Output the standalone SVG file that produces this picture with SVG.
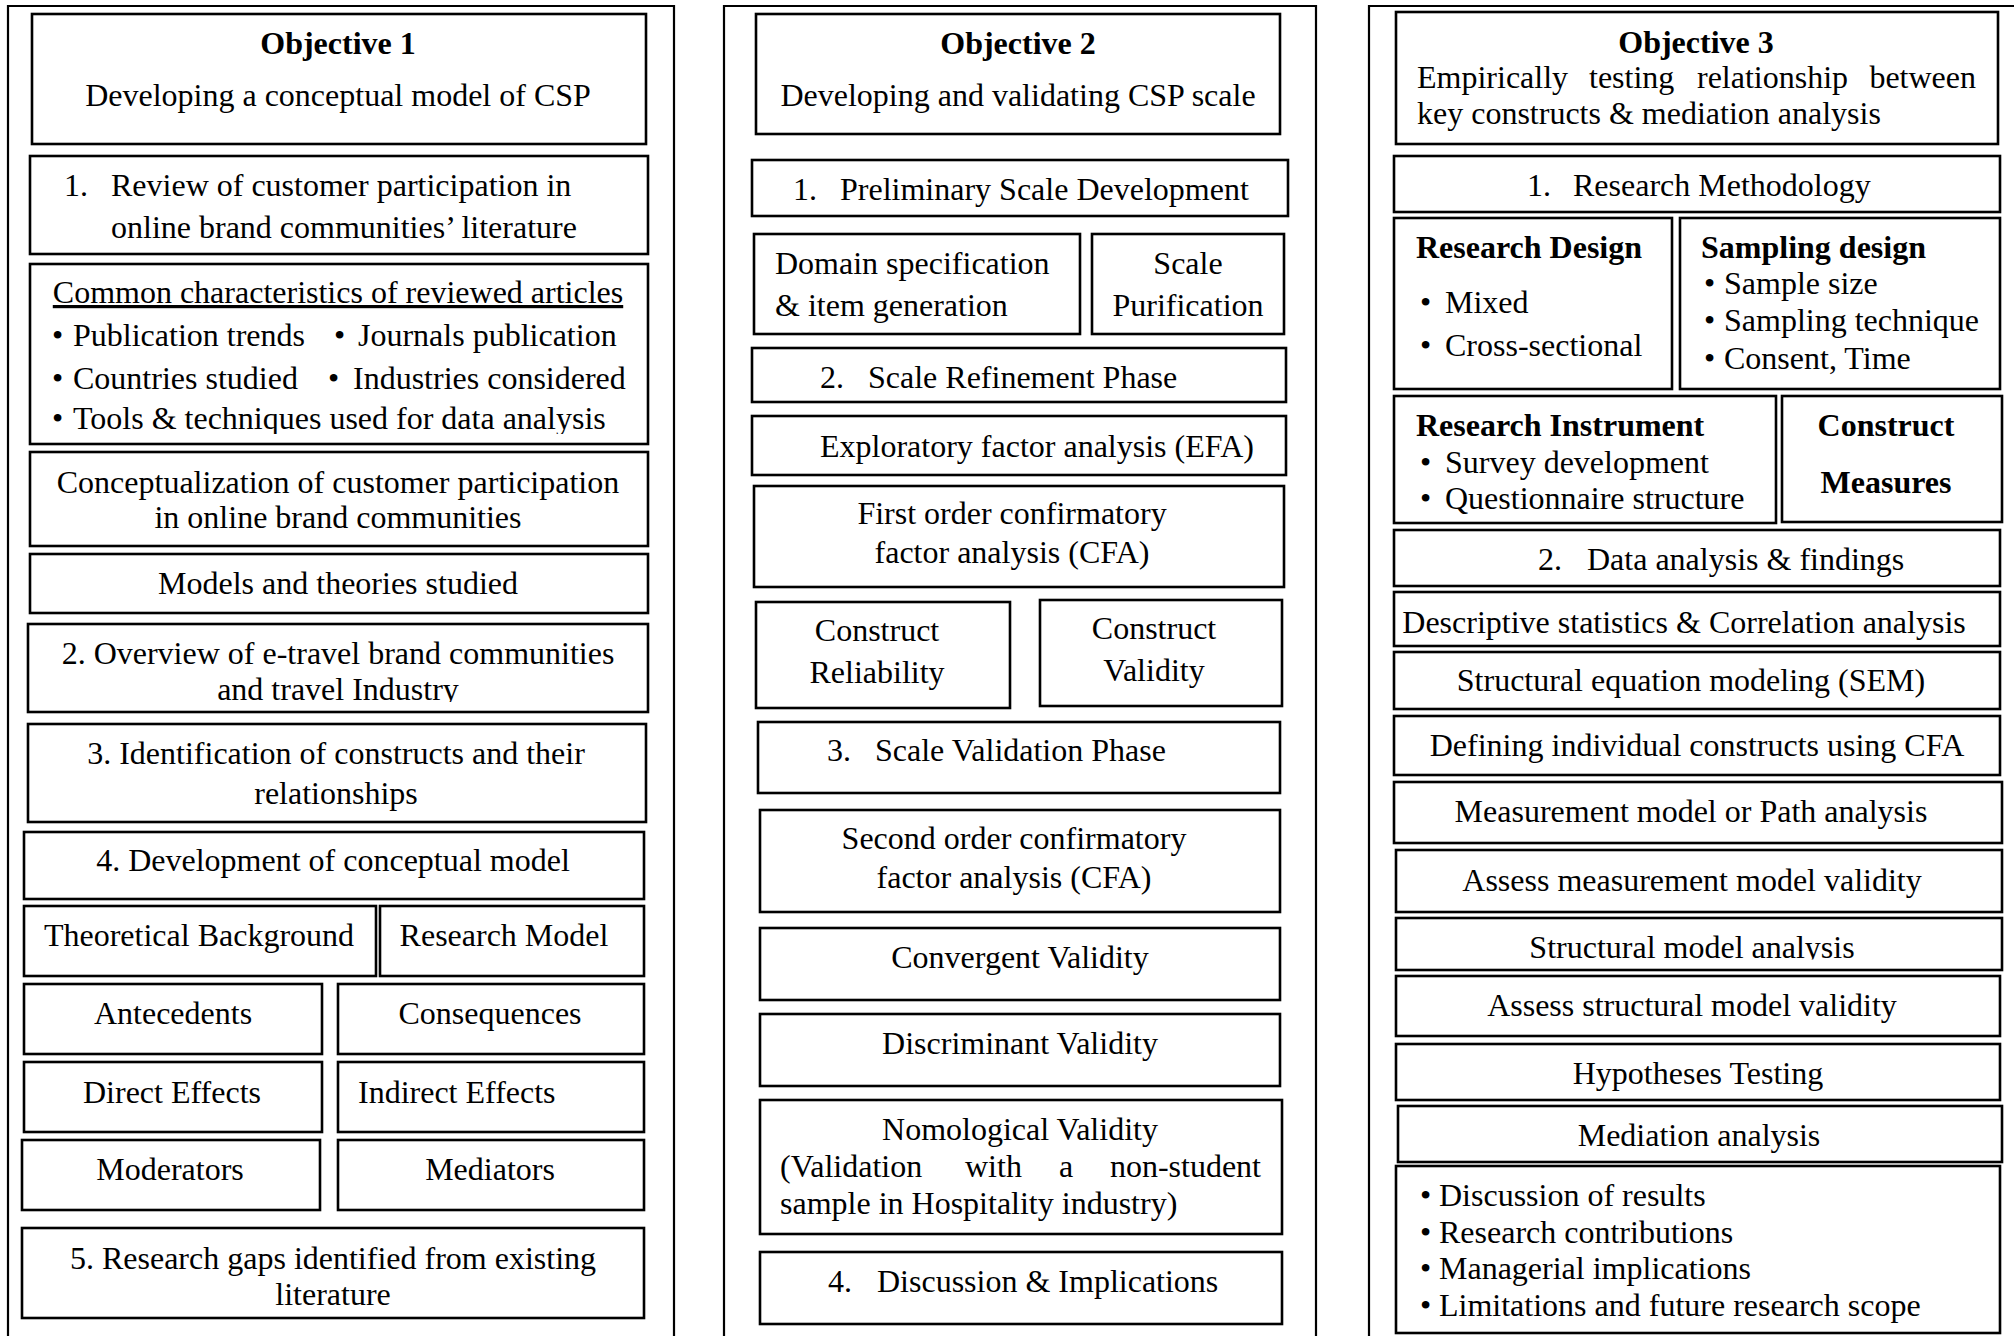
<svg xmlns="http://www.w3.org/2000/svg" width="2014" height="1336" viewBox="0 0 2014 1336">
<style>
.frame{fill:none;stroke:#000;stroke-width:2.2}
.b{fill:#fff;stroke:#000;stroke-width:2.6}
text{font-family:"Liberation Serif","Times New Roman",serif;font-size:32px;fill:#000}
.c{text-anchor:middle}
.e{text-anchor:end}
.bd{font-weight:bold}
</style>
<defs>
<clipPath id="clipTools"><rect x="0" y="0" width="2014" height="434"/></clipPath>
<clipPath id="clipTravel"><rect x="0" y="0" width="2014" height="702"/></clipPath>
<clipPath id="clipStruct"><rect x="0" y="0" width="2014" height="959.5"/></clipPath>
</defs>
<rect width="2014" height="1336" fill="#fff"/>
<g id="frames">
<path class="frame" d="M8,1340 V6 H674 V1340"/>
<path class="frame" d="M724,1340 V6 H1316 V1340"/>
<path class="frame" d="M1369,1340 V6 H2020"/>
</g>
<g id="connectors"></g>

<!-- Column 1 -->
<g id="obj1"><rect class="b" x="32" y="14" width="614" height="130"/>
<text class="c bd" x="338" y="54">Objective 1</text>
<text class="c" x="338" y="106">Developing a conceptual model of CSP</text></g>
<g id="c1-review"><rect class="b" x="30" y="156" width="618" height="98"/>
<text x="64" y="196">1.</text><text x="111" y="196">Review of customer participation in</text>
<text x="111" y="238">online brand communities’ literature</text></g>
<g id="c1-common"><rect class="b" x="30" y="264" width="618" height="180"/>
<text class="c" x="338" y="303" text-decoration="underline">Common characteristics of reviewed articles</text>
<text x="52" y="346">•</text><text x="73" y="346">Publication trends</text><text x="334" y="346">•</text><text x="358" y="346">Journals publication</text>
<text x="52" y="389">•</text><text x="73" y="389">Countries studied</text><text x="328" y="389">•</text><text x="353" y="389">Industries considered</text>
<g clip-path="url(#clipTools)"><text x="52" y="429">•</text><text x="73" y="429">Tools &amp; techniques used for data analysis</text></g></g>
<g id="c1-concept"><rect class="b" x="30" y="452" width="618" height="94"/>
<text class="c" x="338" y="493">Conceptualization of customer participation</text>
<text class="c" x="338" y="528">in online brand communities</text></g>
<g id="c1-models"><rect class="b" x="30" y="554" width="618" height="59"/>
<text class="c" x="338" y="594">Models and theories studied</text></g>
<g id="c1-overview"><rect class="b" x="28" y="624" width="620" height="88"/>
<text class="c" x="338" y="664">2. Overview of e-travel brand communities</text>
<text class="c" x="338" y="700" clip-path="url(#clipTravel)">and travel Industry</text></g>
<g id="c1-ident"><rect class="b" x="28" y="724" width="618" height="98"/>
<text class="c" x="336" y="764">3. Identification of constructs and their</text>
<text class="c" x="336" y="804">relationships</text></g>
<g id="c1-dev"><rect class="b" x="24" y="832" width="620" height="67"/>
<text class="c" x="333" y="871">4. Development of conceptual model</text></g>
<g id="c1-theory"><rect class="b" x="24" y="906" width="352" height="70"/>
<text class="c" x="199" y="946">Theoretical Background</text></g>
<g id="c1-resmodel"><rect class="b" x="380" y="906" width="264" height="70"/>
<text class="c" x="504" y="946">Research Model</text></g>
<g id="c1-antec"><rect class="b" x="24" y="984" width="298" height="70"/>
<text class="c" x="173" y="1024">Antecedents</text></g>
<g id="c1-conseq"><rect class="b" x="338" y="984" width="306" height="70"/>
<text class="c" x="490" y="1024">Consequences</text></g>
<g id="c1-direct"><rect class="b" x="24" y="1062" width="298" height="70"/>
<text class="c" x="172" y="1103">Direct Effects</text></g>
<g id="c1-indirect"><rect class="b" x="338" y="1062" width="306" height="70"/>
<text x="358" y="1103">Indirect Effects</text></g>
<g id="c1-moder"><rect class="b" x="22" y="1140" width="298" height="70"/>
<text class="c" x="170" y="1180">Moderators</text></g>
<g id="c1-medi"><rect class="b" x="338" y="1140" width="306" height="70"/>
<text class="c" x="490" y="1180">Mediators</text></g>
<g id="c1-gaps"><rect class="b" x="22" y="1228" width="622" height="90"/>
<text class="c" x="333" y="1269">5. Research gaps identified from existing</text>
<text class="c" x="333" y="1305">literature</text></g>

<!-- Column 2 -->
<g id="obj2"><rect class="b" x="756" y="14" width="524" height="120"/>
<text class="c bd" x="1018" y="54">Objective 2</text>
<text class="c" x="1018" y="106">Developing and validating CSP scale</text></g>
<g id="c2-prelim"><rect class="b" x="752" y="160" width="536" height="56"/>
<text x="793" y="200">1.</text><text x="840" y="200">Preliminary Scale Development</text></g>
<g id="c2-domain"><rect class="b" x="754" y="234" width="326" height="100"/>
<text x="775" y="274">Domain specification</text>
<text x="775" y="316">&amp; item generation</text></g>
<g id="c2-purif"><rect class="b" x="1092" y="234" width="192" height="100"/>
<text class="c" x="1188" y="274">Scale</text>
<text class="c" x="1188" y="316">Purification</text></g>
<g id="c2-refine"><rect class="b" x="752" y="348" width="534" height="54"/>
<text x="820" y="388">2.</text><text x="868" y="388">Scale Refinement Phase</text></g>
<g id="c2-efa"><rect class="b" x="752" y="416" width="534" height="59"/>
<text x="820" y="457">Exploratory factor analysis (EFA)</text></g>
<g id="c2-cfa1"><rect class="b" x="754" y="486" width="530" height="101"/>
<text class="c" x="1012" y="524">First order confirmatory</text>
<text class="c" x="1012" y="563">factor analysis (CFA)</text></g>
<g id="c2-reli"><rect class="b" x="756" y="602" width="254" height="106"/>
<text class="c" x="877" y="641">Construct</text>
<text class="c" x="877" y="683">Reliability</text></g>
<g id="c2-valid"><rect class="b" x="1040" y="600" width="242" height="106"/>
<text class="c" x="1154" y="639">Construct</text>
<text class="c" x="1154" y="681">Validity</text></g>
<g id="c2-valphase"><rect class="b" x="758" y="722" width="522" height="71"/>
<text x="827" y="761">3.</text><text x="875" y="761">Scale Validation Phase</text></g>
<g id="c2-cfa2"><rect class="b" x="760" y="810" width="520" height="102"/>
<text class="c" x="1014" y="849">Second order confirmatory</text>
<text class="c" x="1014" y="888">factor analysis (CFA)</text></g>
<g id="c2-conv"><rect class="b" x="760" y="928" width="520" height="72"/>
<text class="c" x="1020" y="968">Convergent Validity</text></g>
<g id="c2-disc"><rect class="b" x="760" y="1014" width="520" height="72"/>
<text class="c" x="1020" y="1054">Discriminant Validity</text></g>
<g id="c2-nomo"><rect class="b" x="760" y="1100" width="522" height="134"/>
<text class="c" x="1020" y="1140">Nomological Validity</text>
<text x="780" y="1177">(Validation</text><text x="965" y="1177">with</text><text x="1059" y="1177">a</text><text class="e" x="1261" y="1177">non-student</text>
<text x="780" y="1214">sample in Hospitality industry)</text></g>
<g id="c2-discuss"><rect class="b" x="760" y="1252" width="522" height="72"/>
<text x="828" y="1292">4.</text><text x="877" y="1292">Discussion &amp; Implications</text></g>

<!-- Column 3 -->
<g id="obj3"><rect class="b" x="1396" y="12" width="602" height="132"/>
<text class="c bd" x="1696" y="53">Objective 3</text>
<text x="1417" y="88">Empirically</text><text x="1589" y="88">testing</text><text x="1697" y="88">relationship</text><text class="e" x="1976" y="88">between</text>
<text x="1417" y="124">key constructs &amp; mediation analysis</text></g>
<g id="c3-method"><rect class="b" x="1394" y="156" width="606" height="56"/>
<text x="1527" y="196">1.</text><text x="1573" y="196">Research Methodology</text></g>
<g id="c3-design"><rect class="b" x="1394" y="218" width="278" height="171"/>
<text class="bd" x="1416" y="258">Research Design</text>
<text x="1420" y="313">•</text><text x="1445" y="313">Mixed</text>
<text x="1420" y="356">•</text><text x="1445" y="356">Cross-sectional</text></g>
<g id="c3-sampling"><rect class="b" x="1680" y="218" width="320" height="171"/>
<text class="bd" x="1701" y="258">Sampling design</text>
<text x="1704" y="294">•</text><text x="1724" y="294">Sample size</text>
<text x="1704" y="331">•</text><text x="1724" y="331">Sampling technique</text>
<text x="1704" y="369">•</text><text x="1724" y="369">Consent, Time</text></g>
<g id="c3-instrument"><rect class="b" x="1394" y="396" width="382" height="127"/>
<text class="bd" x="1416" y="436">Research Instrument</text>
<text x="1420" y="473">•</text><text x="1445" y="473">Survey development</text>
<text x="1420" y="509">•</text><text x="1445" y="509">Questionnaire structure</text></g>
<g id="c3-measures"><rect class="b" x="1782" y="396" width="220" height="126"/>
<text class="c bd" x="1886" y="436">Construct</text>
<text class="c bd" x="1886" y="493">Measures</text></g>
<g id="c3-data"><rect class="b" x="1394" y="530" width="606" height="56"/>
<text x="1538" y="570">2.</text><text x="1587" y="570">Data analysis &amp; findings</text></g>
<g id="c3-desc"><rect class="b" x="1394" y="592" width="606" height="54"/>
<text class="c" x="1684" y="633">Descriptive statistics &amp; Correlation analysis</text></g>
<g id="c3-sem"><rect class="b" x="1394" y="652" width="606" height="57"/>
<text class="c" x="1691" y="691">Structural equation modeling (SEM)</text></g>
<g id="c3-defining"><rect class="b" x="1394" y="716" width="606" height="59"/>
<text class="c" x="1697" y="756">Defining individual constructs using CFA</text></g>
<g id="c3-measmodel"><rect class="b" x="1394" y="782" width="608" height="61"/>
<text class="c" x="1691" y="822">Measurement model or Path analysis</text></g>
<g id="c3-assessmeas"><rect class="b" x="1396" y="850" width="606" height="62"/>
<text class="c" x="1692" y="891">Assess measurement model validity</text></g>
<g id="c3-structural"><rect class="b" x="1396" y="918" width="606" height="52"/>
<text class="c" x="1692" y="958" clip-path="url(#clipStruct)">Structural model analysis</text></g>
<g id="c3-assessstruct"><rect class="b" x="1396" y="976" width="604" height="60"/>
<text class="c" x="1692" y="1016">Assess structural model validity</text></g>
<g id="c3-hypo"><rect class="b" x="1396" y="1044" width="604" height="56"/>
<text class="c" x="1698" y="1084">Hypotheses Testing</text></g>
<g id="c3-mediation"><rect class="b" x="1398" y="1106" width="604" height="56"/>
<text class="c" x="1699" y="1146">Mediation analysis</text></g>
<g id="c3-final"><rect class="b" x="1396" y="1166" width="604" height="167"/>
<text x="1420" y="1206">•</text><text x="1439" y="1206">Discussion of results</text>
<text x="1420" y="1243">•</text><text x="1439" y="1243">Research contributions</text>
<text x="1420" y="1279">•</text><text x="1439" y="1279">Managerial implications</text>
<text x="1420" y="1316">•</text><text x="1439" y="1316">Limitations and future research scope</text></g>
</svg>
